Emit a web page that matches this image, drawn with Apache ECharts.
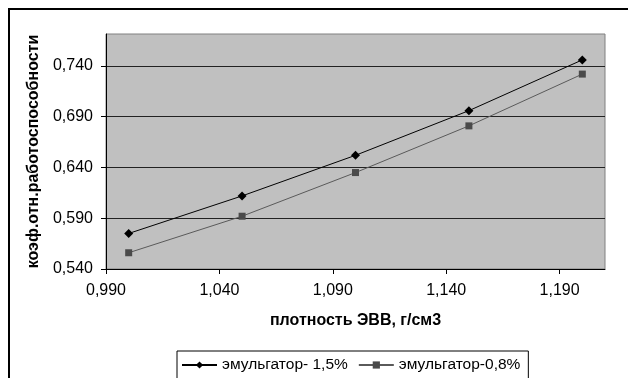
<!DOCTYPE html>
<html>
<head>
<meta charset="utf-8">
<script src="https://cdn.jsdelivr.net/npm/echarts@6/dist/echarts.min.js"></script>
<style>
html,body{margin:0;padding:0;background:#fff;}
#chart{width:628px;height:378px;}
</style>
</head>
<body>
<div id="chart"></div>
<script>
// Data
const density = [1.000, 1.050, 1.100, 1.150, 1.200];
const emul15 = [0.575, 0.612, 0.652, 0.696, 0.746];
const emul08 = [0.556, 0.592, 0.635, 0.681, 0.732];
const seriesNames = ['эмульгатор- 1,5%', 'эмульгатор-0,8%'];
const xTicks = [0.990, 1.040, 1.090, 1.140, 1.190];
const yTicks = [0.540, 0.590, 0.640, 0.690, 0.740];
const xTitle = 'плотность ЭВВ, г/см3';
const yTitle = 'коэф.отн.работоспособности';

const fmt = v => v.toFixed(3).replace('.', ',');
const font = 'Liberation Sans, Arial, sans-serif';

const chart = echarts.init(document.getElementById('chart'), null, {renderer: 'canvas'});
chart.setOption({
  animation: false,
  backgroundColor: '#fff',
  textStyle: {fontFamily: font},
  graphic: [{
    type: 'rect',
    shape: {x: 9, y: 9, width: 1000, height: 1000},
    style: {fill: 'none', stroke: '#000', lineWidth: 2},
    silent: true
  }],
  grid: {
    left: 106, top: 34, right: 23, bottom: 109,
    show: true, backgroundColor: '#c0c0c0', borderColor: '#808080', borderWidth: 1
  },
  xAxis: {
    type: 'value',
    min: xTicks[0], max: 1.21, interval: 0.05,
    name: xTitle, nameLocation: 'middle', nameGap: 44,
    nameTextStyle: {fontFamily: font, fontWeight: 'bold', fontSize: 16, color: '#000'},
    axisLine: {show: true, lineStyle: {color: '#000', width: 1}},
    axisTick: {show: true, length: 5, lineStyle: {color: '#000'}, customValues: xTicks},
    axisLabel: {customValues: xTicks, formatter: fmt, color: '#000', fontSize: 16, fontFamily: font, margin: 14},
    splitLine: {show: false}
  },
  yAxis: {
    type: 'value',
    min: yTicks[0], max: 0.7715, interval: 0.05,
    name: yTitle, nameLocation: 'middle', nameGap: 61,
    nameTextStyle: {fontFamily: font, fontWeight: 'bold', fontSize: 16, color: '#000'},
    axisLine: {show: true, lineStyle: {color: '#000', width: 1}},
    axisTick: {show: true, length: 5, lineStyle: {color: '#000'}, customValues: yTicks},
    axisLabel: {customValues: yTicks, formatter: fmt, color: '#000', fontSize: 16, fontFamily: font, margin: 13},
    splitLine: {show: true, lineStyle: {color: '#222', width: 1}}
  },
  legend: {
    left: 177, top: 351,
    orient: 'horizontal',
    borderColor: '#000', borderWidth: 1,
    padding: [6, 8, 8, 4],
    itemGap: 10, itemWidth: 35, itemHeight: 9,
    textStyle: {fontFamily: font, fontSize: 15.5, color: '#000'},
    data: seriesNames
  },
  series: [
    {
      name: seriesNames[0], type: 'line',
      data: density.map((x, i) => [x, emul15[i]]),
      symbol: 'diamond', symbolSize: 9,
      lineStyle: {color: '#000', width: 1},
      itemStyle: {color: '#000'}
    },
    {
      name: seriesNames[1], type: 'line',
      data: density.map((x, i) => [x, emul08[i]]),
      symbol: 'rect', symbolSize: 7,
      lineStyle: {color: '#5a5a5a', width: 1},
      itemStyle: {color: '#4a4a4a'}
    }
  ]
});
</script>
</body>
</html>
